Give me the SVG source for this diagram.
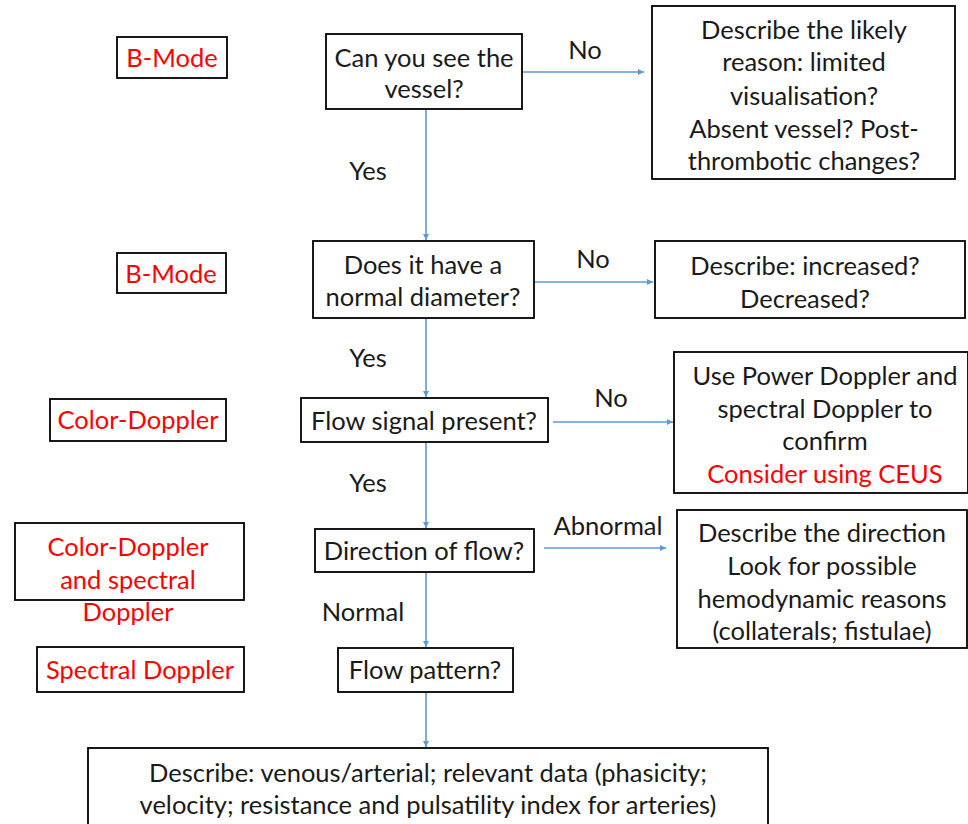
<svg xmlns="http://www.w3.org/2000/svg" width="968" height="824" viewBox="0 0 968 824">
<style>
.b{fill:#fff;stroke:#000;stroke-width:1.8}
text{font-family:Lato,"Open Sans","Liberation Sans",sans-serif;font-size:25.5px;text-anchor:middle;dominant-baseline:central;fill:#1a1a1a}
.r{fill:#ff0000}
.c{stroke:#5b9bd5;stroke-width:1.6;fill:none;marker-end:url(#a)}
</style>
<defs>
<marker id="a" viewBox="0 0 10 10" refX="10" refY="5" markerWidth="6" markerHeight="6" markerUnits="userSpaceOnUse" orient="auto">
<path d="M0,0L10,5L0,10z" fill="#5b9bd5"/>
</marker>
</defs>
<g id="connectors">
<line class="c" x1="522" y1="72" x2="644" y2="72"/>
<line class="c" x1="426" y1="109" x2="426" y2="240"/>
<line class="c" x1="534" y1="282" x2="653" y2="282"/>
<line class="c" x1="426" y1="318" x2="426" y2="397"/>
<line class="c" x1="553" y1="422" x2="673" y2="422"/>
<line class="c" x1="426" y1="442" x2="426" y2="528"/>
<line class="c" x1="544" y1="548" x2="666" y2="548"/>
<line class="c" x1="426" y1="572" x2="426" y2="647"/>
<line class="c" x1="426" y1="692" x2="426" y2="747"/>
<text x="585" y="49">No</text>
<text x="368" y="170">Yes</text>
<text x="593" y="258">No</text>
<text x="368" y="357">Yes</text>
<text x="611" y="397">No</text>
<text x="368" y="482">Yes</text>
<text x="608" y="525">Abnormal</text>
<text x="363" y="611">Normal</text>
</g>
<g id="label1"><rect class="b" x="117" y="37" width="110" height="41"/><text class="r" x="172" y="57">B-Mode</text></g>
<g id="label2"><rect class="b" x="117" y="253" width="109" height="40"/><text class="r" x="171" y="273">B-Mode</text></g>
<g id="label3"><rect class="b" x="50" y="399" width="176" height="42"/><text class="r" x="138" y="419">Color-Doppler</text></g>
<g id="label4"><rect class="b" x="15" y="523" width="229" height="77"/><text class="r" x="128" y="546">Color-Doppler</text><text class="r" x="128" y="579">and spectral</text><text class="r" x="128" y="611">Doppler</text></g>
<g id="label5"><rect class="b" x="37" y="647" width="207" height="45"/><text class="r" x="140" y="669">Spectral Doppler</text></g>
<g id="q1"><rect class="b" x="326" y="34" width="196" height="75"/><text x="424" y="57">Can you see the</text><text x="424" y="88">vessel?</text></g>
<g id="q2"><rect class="b" x="313" y="241" width="221" height="77"/><text x="423" y="264">Does it have a</text><text x="423" y="296">normal diameter?</text></g>
<g id="q3"><rect class="b" x="301" y="398" width="247" height="44"/><text x="424" y="420">Flow signal present?</text></g>
<g id="q4"><rect class="b" x="315" y="529" width="219" height="43"/><text x="424" y="550">Direction of flow?</text></g>
<g id="q5"><rect class="b" x="338" y="648" width="175" height="44"/><text x="425" y="669">Flow pattern?</text></g>
<g id="r1"><rect class="b" x="652" y="6" width="303" height="173"/><text x="804" y="29">Describe the likely</text><text x="804" y="61">reason: limited</text><text x="804" y="95">visualisation?</text><text x="804" y="128">Absent vessel? Post-</text><text x="804" y="160">thrombotic changes?</text></g>
<g id="r2"><rect class="b" x="655" y="241" width="310" height="77"/><text x="805" y="265">Describe: increased?</text><text x="805" y="298">Decreased?</text></g>
<g id="r3"><rect class="b" x="674" y="352" width="294" height="141"/><text x="825" y="375">Use Power Doppler and</text><text x="825" y="408">spectral Doppler to</text><text x="825" y="440">confirm</text><text class="r" x="825" y="473">Consider using CEUS</text></g>
<g id="r4"><rect class="b" x="677" y="510" width="290" height="138"/><text x="822" y="532">Describe the direction</text><text x="822" y="565">Look for possible</text><text x="822" y="598">hemodynamic reasons</text><text x="822" y="630">(collaterals; fistulae)</text></g>
<g id="end"><rect class="b" x="88" y="748" width="680" height="90"/><text x="428" y="772">Describe: venous/arterial; relevant data (phasicity;</text><text x="428" y="804">velocity; resistance and pulsatility index for arteries)</text></g>
</svg>
